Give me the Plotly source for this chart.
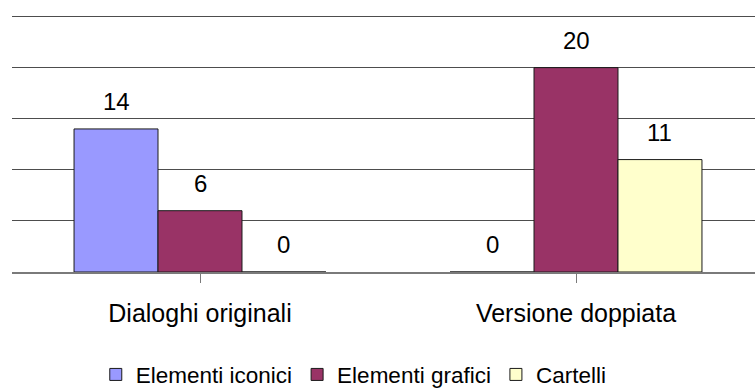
import plotly.graph_objects as go

# Data
categories = ["Dialoghi originali", "Versione doppiata"]
series_names = ["Elementi iconici", "Elementi grafici", "Cartelli"]
elementi_iconici = [14, 0]
elementi_grafici = [6, 20]
cartelli = [0, 11]
series_values = [elementi_iconici, elementi_grafici, cartelli]
y_ticks = [0, 5, 10, 15, 20, 25]

colors = ["#9999FF", "#993366", "#FFFFCC"]
font_family = "Liberation Sans, Arial, sans-serif"
bargap = 0.33

fig = go.Figure()
for name, vals, col in zip(series_names, series_values, colors):
    fig.add_trace(go.Bar(
        name=name,
        x=list(range(len(categories))),
        y=vals,
        marker=dict(color=col, line=dict(color="#1a1a1a", width=1)),
    ))

# Value labels above each bar
n = len(series_names)
bw = (1 - bargap) / n
annotations = []
for i, vals in enumerate(series_values):
    for c, v in enumerate(vals):
        annotations.append(dict(
            x=c + (i - (n - 1) / 2) * bw, y=v, xref="x", yref="y",
            text=str(v), showarrow=False, yshift=27.5, yanchor="middle",
            font=dict(size=24, color="#000000", family=font_family),
        ))

fig.update_layout(
    width=755, height=388,
    margin=dict(l=12, r=0, t=15, b=116, autoexpand=False),
    paper_bgcolor="white", plot_bgcolor="white",
    barmode="group", bargap=bargap, bargroupgap=0,
    font=dict(family=font_family, size=23, color="#000000"),
    annotations=annotations,
    showlegend=True,
    legend=dict(
        orientation="h", x=0.46, xanchor="center", y=-0.40, yanchor="middle",
        font=dict(size=22.5, family=font_family, color="#000000"),
        traceorder="normal",
    ),
)
fig.update_xaxes(
    range=[-0.5, -0.5 + 743 / 376],
    tickmode="array", tickvals=list(range(len(categories))), ticktext=categories,
    tickson="boundaries", ticks="outside", ticklen=9, tickcolor="#7a7a7a",
    showline=True, linecolor="#7a7a7a", linewidth=1.5,
    showgrid=False, zeroline=False,
    tickfont=dict(size=25, family=font_family, color="#000000"),
    ticklabelstandoff=9,
)
fig.update_yaxes(
    range=[0, 25.15], tickvals=y_ticks, showticklabels=False,
    showgrid=True, gridcolor="#4d4d4d", gridwidth=1,
    zeroline=False, showline=False, ticks="",
)

fig.write_html("out.html")
